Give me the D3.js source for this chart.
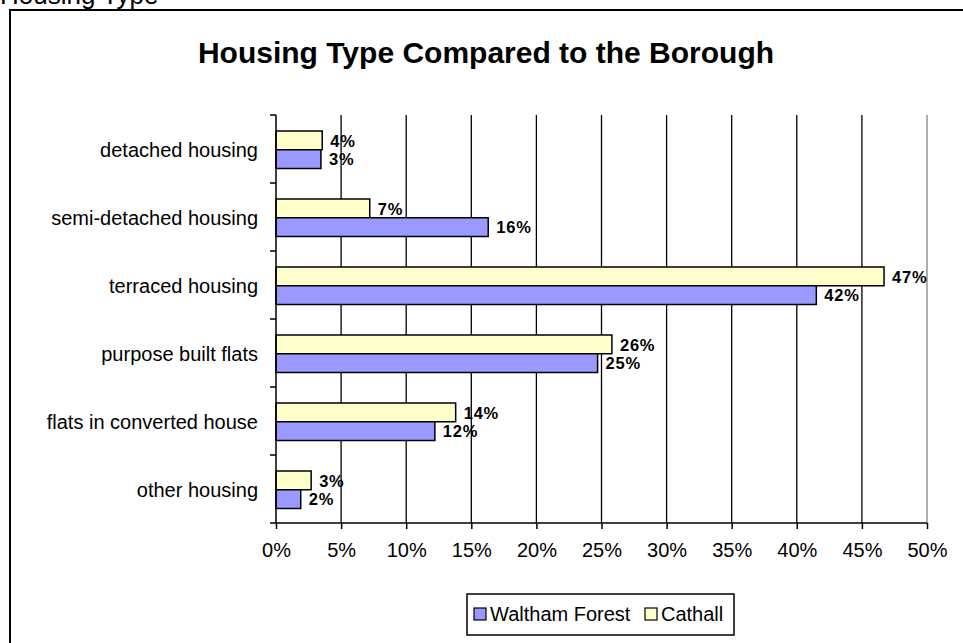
<!DOCTYPE html>
<html>
<head>
<meta charset="utf-8">
<script src="https://cdn.jsdelivr.net/npm/d3@7"></script>
<style>
body { margin:0; background:#fff; }
text { font-family:"Liberation Sans", Arial, sans-serif; }
</style>
</head>
<body>
<script>
var categories = ["detached housing","semi-detached housing","terraced housing","purpose built flats","flats in converted house","other housing"];
var walthamForest = [3.45, 16.3, 41.5, 24.7, 12.2, 1.9];
var cathall = [3.55, 7.2, 46.7, 25.8, 13.8, 2.7];
var seriesNames = ["Cathall","Waltham Forest"];
var seriesColors = {"Waltham Forest":"#9999ff","Cathall":"#ffffcc"};
var xTicks = [0,5,10,15,20,25,30,35,40,45,50];

var svg = d3.select("body").append("svg").attr("width",963).attr("height",643);

svg.append("text").attr("x",0).attr("y",4).attr("font-size","26px").text("Housing Type");

svg.append("rect").attr("x",10).attr("y",10).attr("width",970).attr("height",650)
    .attr("fill","#fff").attr("stroke","#000").attr("stroke-width",2);

svg.append("text").attr("x",486).attr("y",63).attr("text-anchor","middle")
    .attr("font-size","30px").attr("font-weight","bold")
    .text("Housing Type Compared to the Borough");

var x = d3.scaleLinear().domain([0,50]).range([276,927]);
var y = d3.scaleBand().domain(categories).range([115,523]);
var ySub = d3.scaleBand().domain(seriesNames).range([16,53.5]);

// gridlines
svg.selectAll(".grid").data(xTicks.slice(1)).enter().append("line")
    .attr("x1",function(d){ return x(d); }).attr("x2",function(d){ return x(d); })
    .attr("y1",115).attr("y2",523)
    .attr("stroke",function(d){ return d==50 ? "#808080" : "#000"; })
    .attr("stroke-width",1.3);

// bars
var rows = categories.map(function(c,i){
    return [{cat:c, s:"Cathall", v:cathall[i]}, {cat:c, s:"Waltham Forest", v:walthamForest[i]}];
});
var g = svg.selectAll(".cat").data(rows).enter().append("g")
    .attr("transform",function(d){ return "translate(0,"+y(d[0].cat)+")"; });

g.selectAll("rect").data(function(d){ return d; }).enter().append("rect")
    .attr("x",x(0)).attr("y",function(d){ return ySub(d.s); })
    .attr("width",function(d){ return x(d.v)-x(0); })
    .attr("height",ySub.bandwidth())
    .attr("fill",function(d){ return seriesColors[d.s]; })
    .attr("stroke","#000").attr("stroke-width",1.5);

g.selectAll("text").data(function(d){ return d; }).enter().append("text")
    .attr("x",function(d){ return x(d.v)+8; })
    .attr("y",function(d){ return ySub(d.s)+ySub.bandwidth()/2; })
    .attr("dy","0.38em")
    .attr("font-size","16.5px").attr("font-weight","bold").attr("letter-spacing","0.8px")
    .text(function(d){ return Math.round(d.v)+"%"; });

// axes
var xAxis = d3.axisBottom(x).tickValues(xTicks).tickSize(6).tickPadding(14)
    .tickFormat(function(d){ return d+"%"; });
var xg = svg.append("g").attr("transform","translate(0,523)").call(xAxis);
xg.select(".domain").attr("stroke","#000").attr("stroke-width",1.5).attr("d","M276,0H927");
xg.selectAll(".tick line").attr("stroke","#000").attr("stroke-width",1.5);
xg.selectAll(".tick text").attr("font-size","20px").attr("fill","#000")
    .attr("font-family","Liberation Sans, Arial, sans-serif");

svg.append("line").attr("x1",276).attr("x2",276).attr("y1",115).attr("y2",523)
    .attr("stroke","#000").attr("stroke-width",1.5);
var bounds = categories.map(function(c){ return y(c); }).concat([523]);
svg.selectAll(".ytick").data(bounds).enter().append("line")
    .attr("x1",270).attr("x2",276)
    .attr("y1",function(d){ return d; }).attr("y2",function(d){ return d; })
    .attr("stroke","#000").attr("stroke-width",1.5);

svg.selectAll(".catlabel").data(categories).enter().append("text")
    .attr("x",258).attr("y",function(d){ return y(d)+y.bandwidth()/2; })
    .attr("dy","0.4em").attr("text-anchor","end").attr("font-size","20px")
    .text(function(d){ return d; });

// legend
var legend = svg.append("g");
legend.append("rect").attr("x",467).attr("y",594).attr("width",267).attr("height",41)
    .attr("fill","#fff").attr("stroke","#000").attr("stroke-width",1.5);
var legendItems = [{s:"Waltham Forest", x:474}, {s:"Cathall", x:645}];
legend.selectAll(".sw").data(legendItems).enter().append("rect")
    .attr("x",function(d){ return d.x; }).attr("y",608).attr("width",12).attr("height",12)
    .attr("fill",function(d){ return seriesColors[d.s]; })
    .attr("stroke","#000").attr("stroke-width",1.2);
legend.selectAll(".lt").data(legendItems).enter().append("text")
    .attr("x",function(d){ return d.x+16; }).attr("y",621).attr("font-size","20px")
    .text(function(d){ return d.s; });
</script>
</body>
</html>
